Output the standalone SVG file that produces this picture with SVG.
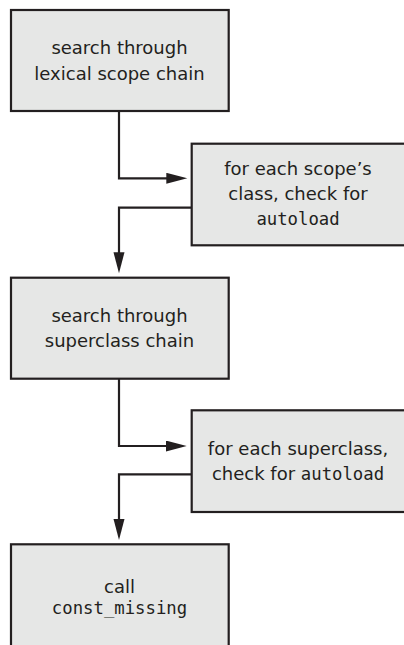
<svg xmlns="http://www.w3.org/2000/svg" width="404" height="645" viewBox="0 0 404 645">
<style>
.box{fill:#e6e7e6;stroke:#231f20;stroke-width:2.2}
.t{font-family:"DejaVu Sans","Liberation Sans",sans-serif;font-size:18px;fill:#231f20;text-anchor:middle}
.m{font-family:"DejaVu Sans Mono","Liberation Mono",monospace;font-size:17.3px}
.c{fill:none;stroke:#231f20;stroke-width:2.2;marker-end:url(#ah)}
</style>
<defs>
<marker id="ah" markerUnits="userSpaceOnUse" markerWidth="22" markerHeight="12" refX="11" refY="5.5" orient="auto">
<path d="M0,0 L21,5.5 L0,11 z" fill="#231f20"/>
</marker>
</defs>
<rect width="404" height="645" fill="#ffffff"/>
<g id="connectors">
<path class="c" d="M119,111 V178.3 H177.3"/>
<path class="c" d="M191.7,207.7 H119 V263.3"/>
<path class="c" d="M119,378.7 V446 H176.7"/>
<path class="c" d="M191.7,474.3 H119 V530"/>
</g>
<g id="n1">
<rect class="box" x="11" y="10" width="217.7" height="101"/>
<text class="t" x="119.5" y="54">search through</text>
<text class="t" x="119.5" y="80">lexical scope chain</text>
</g>
<g id="n2">
<rect class="box" x="191.7" y="143.7" width="216" height="101.6"/>
<text class="t" x="298" y="175">for each scope’s</text>
<text class="t" x="298" y="200">class, check for</text>
<text class="t" x="298" y="225"><tspan class="m">autoload</tspan></text>
</g>
<g id="n3">
<rect class="box" x="11" y="277.7" width="217.7" height="101"/>
<text class="t" x="119.5" y="322">search through</text>
<text class="t" x="119.5" y="347">superclass chain</text>
</g>
<g id="n4">
<rect class="box" x="191.7" y="410.3" width="216" height="101.7"/>
<text class="t" x="298" y="455">for each superclass,</text>
<text class="t" x="298" y="480">check for <tspan class="m">autoload</tspan></text>
</g>
<g id="n5">
<rect class="box" x="11" y="544.3" width="217.7" height="110"/>
<text class="t" x="119.5" y="593">call</text>
<text class="t" x="119.5" y="614"><tspan class="m">const_missing</tspan></text>
</g>
</svg>
